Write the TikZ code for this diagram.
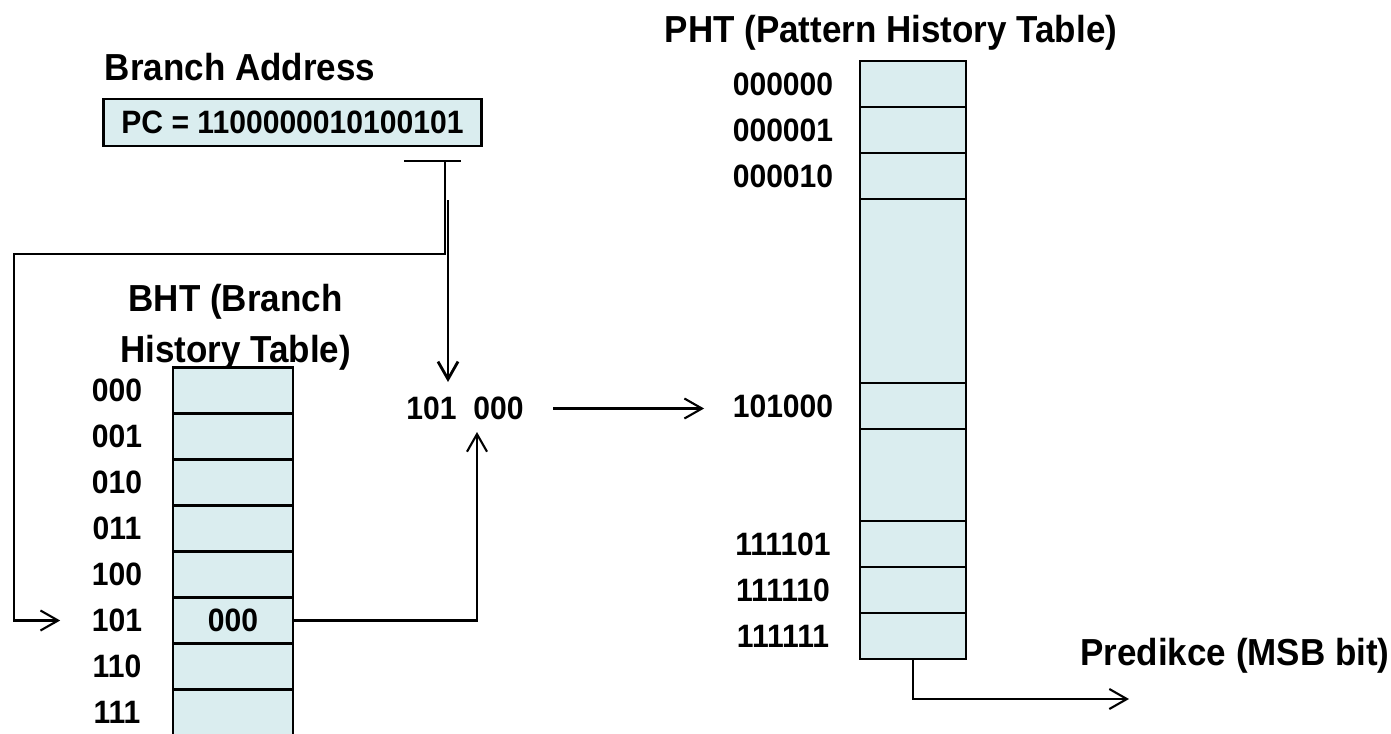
\documentclass[tikz,border=0pt]{standalone}
\usepackage{fontspec}
\setmainfont{Liberation Sans}[FakeStretch=0.93]
\usepackage{tikz}
\usetikzlibrary{calc}
\usetikzlibrary{arrows.meta}
\usetikzlibrary{positioning}
\definecolor{cellfill}{HTML}{DAEDEF}
\tikzset{
  cellbox/.style={draw, line width=0.8pt, fill=cellfill, inner sep=0pt, outer sep=0pt, minimum height=0.46cm},
  lbl/.style={font=\bfseries\fontsize{9.2}{11}\selectfont, inner sep=0pt},
  ttl/.style={font=\bfseries\fontsize{10.7}{13}\selectfont, inner sep=0pt, anchor=base},
  wire/.style={line width=0.6pt},
  arr/.style={wire, -{Straight Barb[length=5pt,width=5.7pt]}}
}
\newcommand{\bhtrow}[3]{ \node[cellbox, minimum width=1.2cm, font=\bfseries\fontsize{9.2}{11}\selectfont] (bht#1) at (233, #2) {#3}; \node[lbl] (bl#1) at (117, #2) {#1};}
\newcommand{\phtcell}[3]{ \node[cellbox, minimum width=1.06cm, minimum height=#3 cm] (ph#1) at (913, #2) {};}
\newcommand{\phtrow}[2]{ \phtcell{#1}{#2}{0.46} \node[lbl] (ph#1lab) at (783, #2) {#1};}

\begin{document}
\begin{tikzpicture}[x=0.01cm, y=-0.01cm]
    \useasboundingbox (0,0) rectangle (1391,733);
    \clip (0,0) rectangle (1391,733);
    \node[ttl] (baddr) at (240, 80) {Branch Address};
    \node[cellbox, minimum width=3.77cm, minimum height=0.47cm, font=\bfseries\fontsize{9.2}{11}\selectfont] (pc) at (292.5, 122.5) {PC = 1100000010100101};
    \node[ttl] (bhtA) at (235.5, 311) {BHT (Branch};
    \node[ttl] (bhtB) at (235.5, 362) {History Table)};
    \node[ttl] (phtT) at (891, 42) {PHT (Pattern History Table)};
    \node[ttl] (pred) at (1235, 665) {Predikce (MSB bit)};

    \bhtrow{000}{390.5}{}
    \bhtrow{001}{436.5}{}
    \bhtrow{010}{482.5}{}
    \bhtrow{011}{528.5}{}
    \bhtrow{100}{574.5}{}
    \bhtrow{101}{620.5}{000}
    \bhtrow{110}{666.5}{}
    \bhtrow{111}{712.5}{}

    \phtrow{000000}{84}
    \phtrow{000001}{130}
    \phtrow{000010}{176}
    \phtcell{gapA}{291}{1.84}
    \phtrow{101000}{406}
    \phtcell{gapB}{475}{0.92}
    \phtrow{111101}{544}
    \phtrow{111110}{590}
    \phtrow{111111}{636}

    \node[lbl] (idx) at (465, 408.5) {101\ \ 000};

    \coordinate (tapL) at (404, 161);
    \coordinate (tapR) at (461, 161);
    \coordinate (tap) at (445, 161);
    \coordinate (hiTop) at (448, 200);
    \coordinate (hiEnd) at (448, 382);
    \coordinate (loIn) at (477, 432);
    \coordinate (out) at (1129, 699);

    \draw[wire] (tapL) -- (tapR);
    \draw[arr] (tap) |- (14, 254) |- ([xshift=-0.31cm]bl101.west);
    \draw[arr, line width=0.8pt] (hiTop) -- (hiEnd);
    \draw[arr] (bht101.east) -| (loIn);
    \draw[arr] ([xshift=0.29cm]idx.east) -- ([xshift=-0.28cm]idx.east -| ph101000lab.west);
    \draw[arr] (ph111111.south) |- (out);
\end{tikzpicture}
\end{document}
